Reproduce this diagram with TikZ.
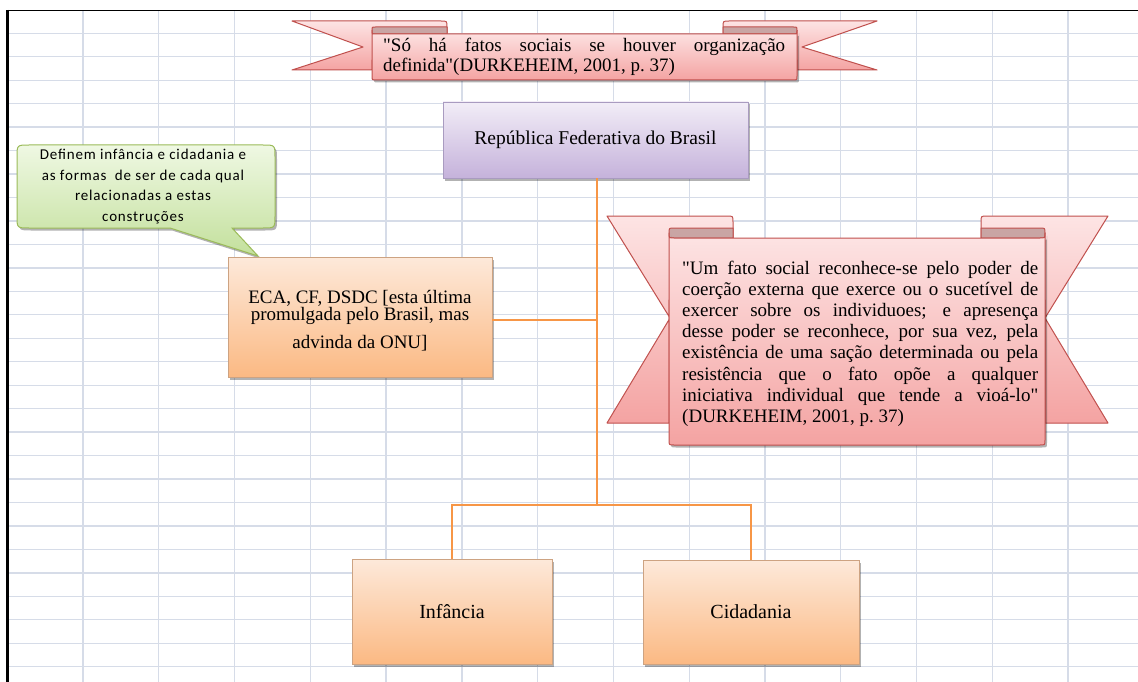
\documentclass[tikz,border=0pt]{standalone}
\usepackage{fontspec}
\setmainfont{Liberation Serif}[Ligatures=TeXOff]
\newfontfamily\calfont[LetterSpace=5.5]{Carlito}
\usetikzlibrary{shadows}
\definecolor{gridc}{HTML}{D6DCE8}
\definecolor{conn}{HTML}{F79646}
\definecolor{redb}{HTML}{C0504D}
\definecolor{redtop}{HTML}{FDE4E4}
\definecolor{redbot}{HTML}{F4A3A2}
\definecolor{foldc}{HTML}{C9A5A4}
\definecolor{purtop}{HTML}{F2EDF7}
\definecolor{purbot}{HTML}{C5B2DB}
\definecolor{purb}{HTML}{A99BC0}
\definecolor{ortop}{HTML}{FDE9DA}
\definecolor{orbot}{HTML}{FBB983}
\definecolor{orb}{HTML}{CDA382}
\definecolor{grtop}{HTML}{EFF8E3}
\definecolor{grbot}{HTML}{C3E09C}
\definecolor{grb}{HTML}{9BBB59}
\begin{document}
\begin{tikzpicture}[x=1pt,y=-1pt,
  gridline/.style={draw=gridc,line width=1.3pt},
  connector/.style={draw=conn,line width=1.5pt},
  softshadow/.style={drop shadow={shadow xshift=2pt,shadow yshift=-2.5pt,opacity=0.3,fill=black}},
  ribbonpart/.style={draw=redb,line width=1pt,top color=redtop,bottom color=redbot,line join=round},
  folddark/.style={draw=redb,line width=1pt,fill=foldc,line join=round},
  purplebox/.style={draw=purb,line width=0.8pt,top color=purtop,bottom color=purbot,softshadow,inner sep=0pt},
  orangebox/.style={draw=orb,line width=0.8pt,top color=ortop,bottom color=orbot,softshadow,inner sep=0pt},
  calloutshape/.style={draw=grb,line width=1pt,top color=grtop,bottom color=grbot,softshadow},
  plaintext/.style={inner sep=0pt,text=black}
]
\useasboundingbox (0,0) rectangle (1138,682);
\fill[white] (0,0) rectangle (1138,682);

% spreadsheet grid
\foreach \i in {0,...,13} \draw[gridline] ({83+75.77*\i},11) -- ({83+75.77*\i},682);
\foreach \j in {0,...,27} \draw[gridline] (7,{33.3+23.46*\j}) -- (1138,{33.3+23.46*\j});
\draw[black,line width=1.5pt] (7,10.7) -- (1138,10.7);
\draw[black,line width=2.5pt] (7.5,10) -- (7.5,682);

% ---- top ribbon ----
\path[ribbonpart] (292,21) -- (441,21) .. controls (447,21) .. (447,27) -- (447,60) -- (372,60) -- (372,70) -- (292,70) -- (363,47) -- cycle;
\path[ribbonpart] (877,21) -- (729,21) .. controls (723,21) .. (723,27) -- (723,60) -- (797,60) -- (797,70) -- (877,70) -- (802,47) -- cycle;
\path[folddark] (375.5,27) -- (447,27) -- (447,34) -- (375.5,34) .. controls (372,34) .. (372,30.5) .. controls (372,27) .. (375.5,27) -- cycle;
\path[folddark] (793.5,27) -- (723,27) -- (723,34) -- (793.5,34) .. controls (797,34) .. (797,30.5) .. controls (797,27) .. (793.5,27) -- cycle;
\path[ribbonpart,softshadow] (372,30.5) .. controls (372,34) .. (375.5,34) -- (793.5,34) .. controls (797,34) .. (797,30.5) -- (797,76) .. controls (797,80) .. (793,80) -- (376,80) .. controls (372,80) .. (372,76) -- cycle;
\node[plaintext,anchor=base west] (q1) at (383,52) {\parbox[t]{402pt}{\fontsize{19}{19.5}\selectfont\makebox[402pt][s]{"Só há fatos sociais se houver organização}\\
definida"(DURKEHEIM, 2001, p.~37)}};

% ---- right ribbon ----
\path[ribbonpart] (607,216) -- (727,216) .. controls (733,216) .. (733,222) -- (733,300) -- (669,300) -- (669,423) -- (607,423) -- (670,318) -- cycle;
\path[ribbonpart] (1108,216) -- (987,216) .. controls (981,216) .. (981,222) -- (981,300) -- (1045,300) -- (1045,423) -- (1108,423) -- (1045,318) -- cycle;
\path[folddark] (674,228) -- (733,228) -- (733,238) -- (674,238) .. controls (669,238) .. (669,233) .. controls (669,228) .. (674,228) -- cycle;
\path[folddark] (1040,228) -- (981,228) -- (981,238) -- (1040,238) .. controls (1045,238) .. (1045,233) .. controls (1045,228) .. (1040,228) -- cycle;
\path[ribbonpart,softshadow] (669,233) .. controls (669,238) .. (674,238) -- (1040,238) .. controls (1045,238) .. (1045,233) -- (1045,440) .. controls (1045,445) .. (1040,445) -- (674,445) .. controls (669,445) .. (669,440) -- cycle;
\node[plaintext,anchor=base west] (q2) at (682,274) {\parbox[t]{356pt}{\fontsize{19}{21.2}\selectfont
\makebox[356pt][s]{"Um fato social reconhece-se pelo poder de}\\
\makebox[356pt][s]{coerção externa que exerce ou o sucetível de}\\
\makebox[356pt][s]{exercer sobre os individuoes; e apresença}\\
\makebox[356pt][s]{desse poder se reconhece, por sua vez, pela}\\
\makebox[356pt][s]{existência de uma sação determinada ou pela}\\
\makebox[356pt][s]{resistência que o fato opõe a qualquer}\\
\makebox[356pt][s]{iniciativa individual que tende a vioá-lo"}\\
(DURKEHEIM, 2001, p.~37)}};

% ---- callout ----
\path[calloutshape] (170,228) -- (29,228) .. controls (17,228) .. (17,216) -- (17,157) .. controls (17,145) .. (29,145) -- (263,145) .. controls (275,145) .. (275,157) -- (275,216) .. controls (275,228) .. (263,228) -- (232,228) -- (258,256) -- cycle;
\node[plaintext,anchor=base] (callouttext) at (143,160) {\parbox[t]{258pt}{\centering\calfont\fontsize{15}{20.5}\selectfont Definem infância e cidadania e\\
as formas\ \ de ser de cada qual\\
relacionadas a estas\\
construções}};

% ---- boxes ----
\node[purplebox,minimum width=305pt,minimum height=76pt,font=\fontsize{19.5}{22}\selectfont] (rep) at (595.5,140) {República Federativa do Brasil};
\node[orangebox,minimum width=264pt,minimum height=120pt] (eca) at (360,317) {};
\node[plaintext,anchor=base] (ecatext) at (360,303) {\parbox[t]{264pt}{\centering\fontsize{19}{17}\selectfont ECA, CF, DSDC [esta última\\
promulgada pelo Brasil, mas\\[10pt]
advinda da ONU]}};
\node[orangebox,minimum width=200pt,minimum height=105pt,font=\fontsize{20}{22}\selectfont] (inf) at (452,611.5) {Infância};
\node[orangebox,minimum width=216pt,minimum height=104pt,font=\fontsize{20}{22}\selectfont] (cid) at (751,612) {Cidadania};

% ---- connectors ----
\coordinate (jt) at (597,505);
\coordinate (je) at (597,320);
\draw[connector] (rep.south -| jt) -- (jt);
\draw[connector] (eca.east |- je) -- (je);
\draw[connector] (jt) -| (inf.north);
\draw[connector] (jt) -| (cid.north);
\end{tikzpicture}
\end{document}
